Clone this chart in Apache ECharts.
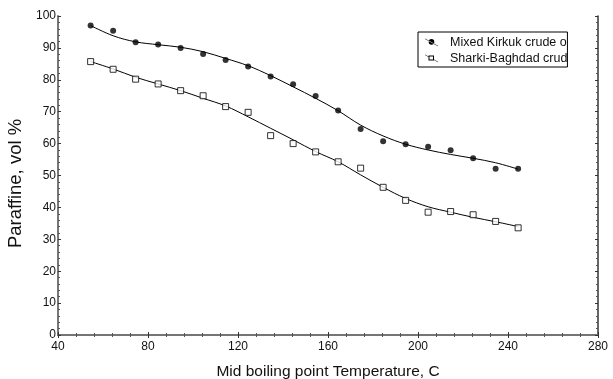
<!DOCTYPE html>
<html>
<head>
<meta charset="utf-8">
<script src="https://cdn.jsdelivr.net/npm/echarts@6/dist/echarts.min.js"></script>
<style>html,body{margin:0;padding:0;background:#fff;}#c{width:613px;height:379px;}</style>
</head>
<body>
<div id="c"></div>
<script>
var temps = [54.5, 64.5, 74.5, 84.5, 94.5, 104.5, 114.5, 124.5, 134.5, 144.5, 154.5, 164.5, 174.5, 184.5, 194.5, 204.5, 214.5, 224.5, 234.5, 244.5];
var kirkukPts = [97.0, 95.4, 91.8, 91.1, 90.0, 88.1, 86.2, 84.2, 81.0, 78.6, 74.9, 70.4, 64.6, 60.7, 59.8, 59.0, 57.9, 55.4, 52.1, 52.1];
var kirkukFit = [97.0, 93.8, 91.9, 91.0, 90.2, 88.8, 86.7, 84.4, 81.3, 77.8, 74.2, 70.3, 65.8, 62.4, 59.8, 58.0, 56.6, 55.4, 54.0, 52.0];
var sharkiPts = [85.7, 83.3, 80.2, 78.7, 76.6, 75.0, 71.6, 69.8, 62.5, 60.0, 57.4, 54.3, 52.3, 46.3, 42.2, 38.5, 38.7, 37.7, 35.6, 33.6];
var sharkiFit = [85.7, 83.4, 80.8, 78.7, 76.6, 74.2, 71.8, 68.4, 64.8, 61.2, 57.5, 54.3, 50.2, 46.3, 42.8, 40.2, 38.5, 36.9, 35.5, 34.0];
var xTicks = [40, 80, 120, 160, 200, 240, 280];
var yTicks = [0, 10, 20, 30, 40, 50, 60, 70, 80, 90, 100];
var seriesNames = ['Mixed Kirkuk crude oil', 'Sharki-Baghdad crude oil'];
var xTitle = 'Mid boiling point Temperature, C';
var yTitle = 'Paraffine, vol %';

function pairs(xs, ys) { return xs.map(function (x, i) { return [x, ys[i]]; }); }

var FONT = '"Liberation Sans", Arial, sans-serif';
var chart = echarts.init(document.getElementById('c'), null, { renderer: 'canvas' });

var pad = ' M20,8 L20.01,8 L20,8.01 Z';
var iconCircle = 'path://M0,0 L13,7.2 L13,7.8 L0,0.6 Z M3.7,3.4 A2.8,2.8 0 1,0 9.3,3.4 A2.8,2.8 0 1,0 3.7,3.4 Z' + pad;
var iconSquare = 'path://M0,0 L3.5,1.9 L3.5,2.5 L0,0.6 Z M9,5 L13,7.2 L13,7.8 L9,5.6 Z M3.5,1 L9,1 L9,6 L3.5,6 Z M4.5,2 L4.5,5 L8,5 L8,2 Z' + pad;

function baseAxis(extra) {
  return Object.assign({
    axisTick: { show: true, inside: true, length: 3, lineStyle: { color: '#333', width: 1 } },
    minorTick: { show: true, splitNumber: 5, length: 2, lineStyle: { color: '#555', width: 1 } },
    splitLine: { show: false },
    minorSplitLine: { show: false }
  }, extra);
}

chart.setOption({
  animation: false,
  backgroundColor: '#fff',
  grid: { left: 58, right: 15, top: 16, bottom: 44, containLabel: false, outerBoundsMode: 'none' },
  xAxis: [
    baseAxis({
      type: 'value', min: xTicks[0], max: xTicks[xTicks.length - 1], interval: 40,
      name: xTitle, nameLocation: 'middle', nameGap: 29,
      nameTextStyle: { fontFamily: FONT, fontSize: 15.5, color: '#111' },
      axisLine: { show: true, lineStyle: { color: '#000', width: 1.5 } },
      axisLabel: { fontFamily: FONT, fontSize: 12, color: '#111', margin: 6 }
    }),
    baseAxis({
      type: 'value', position: 'top', min: xTicks[0], max: xTicks[xTicks.length - 1], interval: 40,
      axisLine: { show: true, lineStyle: { color: '#888', width: 1.5 } },
      axisLabel: { show: false }
    })
  ],
  yAxis: [
    baseAxis({
      type: 'value', min: yTicks[0], max: yTicks[yTicks.length - 1], interval: 10,
      name: yTitle, nameLocation: 'middle', nameGap: 31, nameRotate: 90,
      nameTextStyle: { fontFamily: FONT, fontSize: 18.5, color: '#111', padding: [0, 16, 0, 0] },
      axisLine: { show: true, lineStyle: { color: '#777', width: 2 } },
      axisLabel: { fontFamily: FONT, fontSize: 12, color: '#111', margin: 2 }
    }),
    baseAxis({
      type: 'value', position: 'right', min: yTicks[0], max: yTicks[yTicks.length - 1], interval: 10,
      axisLine: { show: true, lineStyle: { color: '#333', width: 1.5 } },
      axisLabel: { show: false }
    })
  ],
  legend: {
    left: 418, top: 32, orient: 'vertical',
    backgroundColor: '#fff', borderColor: '#000', borderWidth: 1,
    padding: [4, 0, 2, 7], itemGap: 3,
    itemWidth: 20, itemHeight: 8,
    textStyle: { fontFamily: FONT, fontSize: 12.5, color: '#111', width: 120, overflow: 'truncate', ellipsis: '' },
    data: [
      { name: seriesNames[0], icon: iconCircle, itemStyle: { color: '#000', borderWidth: 0 } },
      { name: seriesNames[1], icon: iconSquare, itemStyle: { color: '#000', borderWidth: 0 } }
    ]
  },
  series: [
    { name: seriesNames[0], type: 'line', data: pairs(temps, kirkukFit), smooth: 0.35, showSymbol: false, symbol: 'none',
      lineStyle: { color: '#000', width: 1 }, itemStyle: { color: '#000' }, z: 2 },
    { name: seriesNames[1], type: 'line', data: pairs(temps, sharkiFit), smooth: 0.35, showSymbol: false, symbol: 'none',
      lineStyle: { color: '#000', width: 1 }, itemStyle: { color: '#000' }, z: 2 },
    { name: seriesNames[0], type: 'scatter', data: pairs(temps, kirkukPts), symbol: 'circle', symbolSize: 6,
      itemStyle: { color: '#000' }, z: 3 },
    { name: seriesNames[1], type: 'scatter', data: pairs(temps, sharkiPts), symbol: 'rect', symbolSize: 6,
      itemStyle: { color: '#fff', borderColor: '#000', borderWidth: 1 }, z: 3 }
  ]
});
</script>
</body>
</html>
